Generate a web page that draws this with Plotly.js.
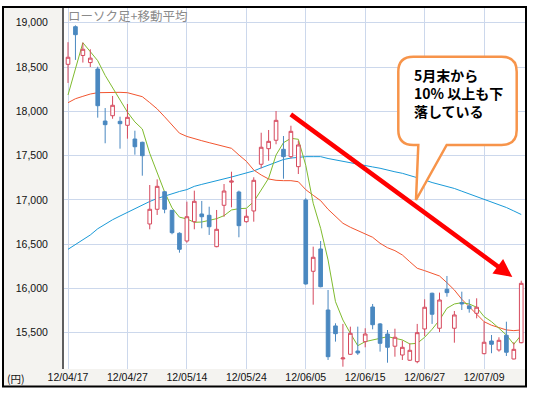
<!DOCTYPE html>
<html>
<head>
<meta charset="utf-8">
<script src="https://cdn.plot.ly/plotly-3.0.1.min.js"></script>
<style>html,body{margin:0;padding:0;background:#fff;}#chart{width:533px;height:393px;}</style>
</head>
<body>
<div id="chart"></div>
<script>
const dates = ['12/04/17','12/04/18','12/04/19','12/04/20','12/04/23','12/04/24','12/04/25','12/04/26','12/04/27','12/05/01','12/05/02','12/05/07','12/05/08','12/05/09','12/05/10','12/05/11','12/05/14','12/05/15','12/05/16','12/05/17','12/05/18','12/05/21','12/05/22','12/05/23','12/05/24','12/05/25','12/05/28','12/05/29','12/05/30','12/05/31','12/06/01','12/06/04','12/06/05','12/06/06','12/06/07','12/06/08','12/06/11','12/06/12','12/06/13','12/06/14','12/06/15','12/06/18','12/06/19','12/06/20','12/06/21','12/06/22','12/06/25','12/06/26','12/06/27','12/06/28','12/06/29','12/07/02','12/07/03','12/07/04','12/07/05','12/07/06','12/07/09','12/07/10','12/07/11','12/07/12','12/07/13','12/07/17'];
const open = [18530,18955,18630,18550,18477,17890,17950,17887,17842,17687,17650,16728,16894,17092,16882,16623,16536,16754,16841,16826,16472,16939,17200,17089,16754,16875,17402,17578,17673,17571,17488,17375,16999,16194,16446,15757,15577,15205,15257,15294,15400,15791,15600,15486,15348,15249,15190,15174,15543,15946,15551,15991,15551,15840,15802,15720,15264,15407,15306,15472,15204,15388];
const high = [18780,18970,18775,18700,18503,18037,18173,17939,18082,17781,17657,17168,17232,17100,16886,16634,16980,17104,16988,16923,16886,17179,17318,17104,16894,17255,17758,17789,18003,17721,17837,17668,17018,16472,16536,15983,15607,15600,15569,15569,15551,15825,15610,15531,15546,15411,15381,15600,15878,15953,15953,16141,15746,15964,15878,15889,15625,15475,15449,15625,15393,16088];
const low = [18320,18580,18550,18500,17928,17639,17916,17578,17691,17510,17273,16668,16830,16849,16612,16404,16517,16668,16679,16604,16465,16810,16916,16578,16743,16754,17357,17442,17628,17239,17469,17292,16043,15817,16013,15193,15400,15117,15250,15250,15336,15539,15287,15162,15230,15193,15182,15156,15464,15600,15509,15907,15388,15757,15727,15663,15257,15269,15287,15238,15200,15381];
const close = [18610,18865,18700,18600,18063,17849,18068,17860,17932,17600,17499,16894,17153,16894,16630,16442,16810,16984,16810,16697,16668,17100,17212,16709,16815,17221,17594,17661,17898,17488,17774,17620,16051,16352,16020,15230,15490,15215,15494,15272,15486,15591,15381,15336,15449,15336,15302,15501,15788,15709,15870,15953,15701,15826,15772,15788,15393,15370,15415,15280,15313,16058];
const ma5 = [18184,18485,18774,18673,18571,18405,18270,18130,17990,17880,17800,17525,17300,17090,16910,16805,16785,16747,16750,16773,16788,16822,16886,16901,16905,16980,17120,17244,17507,17646,17695,17684,17390,16962,16679,16322,15851,15644,15494,15354,15400,15419,15438,15456,15438,15419,15374,15381,15449,15539,15644,15777,15825,15840,15825,15788,15682,15625,15551,15475,15370,15475];
const ma25 = [18097,18142,18169,18195,18210,18214,18214,18214,18210,18187,18165,18098,18027,17938,17848,17753,17716,17696,17668,17646,17623,17600,17582,17507,17436,17337,17281,17236,17221,17217,17217,17205,17115,17052,16991,16894,16818,16736,16691,16652,16615,16578,16510,16460,16427,16378,16302,16228,16201,16172,16141,16065,15983,15878,15794,15720,15625,15585,15562,15532,15524,15532];
const ma75 = [16442,16499,16551,16604,16674,16727,16776,16818,16860,16903,16946,16982,17016,17044,17070,17095,17116,17153,17175,17194,17212,17235,17258,17281,17302,17327,17361,17395,17427,17456,17472,17482,17488,17488,17488,17467,17450,17433,17419,17403,17388,17372,17357,17335,17317,17300,17277,17253,17225,17196,17174,17155,17129,17098,17067,17033,17004,16976,16948,16914,16875,16835];
const xTickLabels = ['12/04/17','12/04/27','12/05/14','12/05/24','12/06/05','12/06/15','12/06/27','12/07/09'];
const yTickVals = [15500,16000,16500,17000,17500,18000,18500,19000];
const yTickText = ['15,500','16,000','16,500','17,000','17,500','18,000','18,500','19,000'];
const chartTitle = 'ローソク足+移動平均';
const calloutText = '5月末から<br>10% 以上も下<br>落している';
const unitLabel = '(円)';

// layout geometry (pixels)
const W = 533, H = 393, L = 64, R = 526, T = 8, B = 369;
const px = x => (x - L) / (R - L);
const py = y => 1 - (y - T) / (B - T);
const xRange = [-0.54, 61.64];
const yRange = [15091, 19166];

const lineTrace = (y, color) => ({
  type: 'scatter', mode: 'lines', x: dates, y: y, xaxis: 'x', yaxis: 'y',
  line: {color: color, width: 1}, hoverinfo: 'skip', showlegend: false
});

const traces = [
  lineTrace(ma75, '#1a9ad8'),
  lineTrace(ma25, '#f2552f'),
  lineTrace(ma5, '#7fbb2e'),
  {
    type: 'candlestick', x: dates, open: open, high: high, low: low, close: close,
    xaxis: 'x2', yaxis: 'y2', showlegend: false, hoverinfo: 'skip',
    increasing: {line: {color: '#d6495d', width: 1}, fillcolor: '#ffffff'},
    decreasing: {line: {color: '#4a88c0', width: 1}, fillcolor: '#4a88c0'},
    whiskerwidth: 0
  }
];

// callout path
const cl = 398.3, cr = 516.7, ct = 56.7, cb = 145, rr = 15;
const P = (x, y) => px(x).toFixed(5) + ',' + py(y).toFixed(5);
const calloutPath = 'M' + P(cl + rr, ct) + ' L' + P(cr - rr, ct) + ' Q' + P(cr, ct) + ' ' + P(cr, ct + rr) +
  ' L' + P(cr, cb - rr) + ' Q' + P(cr, cb) + ' ' + P(cr - rr, cb) +
  ' L' + P(446.7, cb) + ' L' + P(416, 200) + ' L' + P(418.3, cb) +
  ' L' + P(cl + rr, cb) + ' Q' + P(cl, cb) + ' ' + P(cl, cb - rr) +
  ' L' + P(cl, ct + rr) + ' Q' + P(cl, ct) + ' ' + P(cl + rr, ct) + ' Z';

const axisFont = {family: 'Liberation Sans, Arial, sans-serif', size: 10.5, color: '#111'};

const layout = {
  width: W, height: H,
  margin: {l: L, r: W - R, t: T, b: H - B, pad: 0},
  paper_bgcolor: '#ffffff', plot_bgcolor: '#ffffff',
  showlegend: false,
  title: {
    text: chartTitle, x: px(68), xref: 'paper', xanchor: 'left',
    y: 1 - 16.7 / H, yref: 'container', yanchor: 'middle',
    font: {family: 'Noto Sans CJK JP, sans-serif', size: 12.5, color: '#8a8a8a'}
  },
  xaxis: {
    type: 'category', range: xRange, tickmode: 'array', tickvals: xTickLabels, ticktext: xTickLabels,
    showgrid: true, gridcolor: '#ccd8ec', gridwidth: 1, zeroline: false, showline: false,
    ticks: '', tickfont: axisFont, fixedrange: true, rangeslider: {visible: false}
  },
  yaxis: {
    range: yRange, tickmode: 'array', tickvals: yTickVals, ticktext: yTickText,
    showgrid: true, gridcolor: '#ccd8ec', gridwidth: 1, zeroline: false,
    showline: true, linecolor: '#5f5f5f', linewidth: 2,
    ticks: '', ticklabelstandoff: 12, tickfont: axisFont, fixedrange: true
  },
  xaxis2: {type: 'category', overlaying: 'x', range: xRange, visible: false, showgrid: false, rangeslider: {visible: false}},
  yaxis2: {overlaying: 'y', range: yRange, visible: false, showgrid: false},
  shapes: [
    {type: 'rect', xref: 'paper', yref: 'paper', x0: px(4), x1: px(L), y0: py(386), y1: py(7), fillcolor: '#f4f3f0', line: {width: 0}, layer: 'below'},
    {type: 'rect', xref: 'paper', yref: 'paper', x0: px(L), x1: px(526), y0: py(386), y1: py(B), fillcolor: '#f4f3f0', line: {width: 0}, layer: 'below'},
    {type: 'rect', xref: 'paper', yref: 'paper', x0: px(3), x1: px(526), y0: py(386.5), y1: py(7), fillcolor: 'rgba(0,0,0,0)', line: {color: '#000', width: 2}, layer: 'above'},
    {type: 'path', xref: 'paper', yref: 'paper', path: calloutPath, fillcolor: '#ffffff', line: {color: '#f7944a', width: 2.5}, layer: 'above'}
  ],
  annotations: [
    {xref: 'paper', yref: 'paper', x: px(512.3), y: py(277), ax: 289.3 - 512.3, ay: 113.3 - 277, axref: 'pixel', ayref: 'pixel',
     text: '', showarrow: true, arrowhead: 2, arrowsize: 0.8, arrowwidth: 4.5, arrowcolor: '#ff0000', standoff: 0, startstandoff: 0},
    {xref: 'paper', yref: 'paper', x: px(412), y: py(93.3), xanchor: 'left', yanchor: 'middle', align: 'left', showarrow: false,
     text: calloutText, font: {family: 'Noto Sans CJK JP, sans-serif', size: 14, color: '#000', weight: 'bold'}},
    {xref: 'paper', yref: 'paper', x: px(5), y: py(378), xanchor: 'left', yanchor: 'middle', showarrow: false,
     text: unitLabel, font: {family: 'Noto Sans CJK JP, sans-serif', size: 10.5, color: '#111'}}
  ]
};

Plotly.newPlot('chart', traces, layout, {staticPlot: true, displayModeBar: false});
</script>
</body>
</html>
